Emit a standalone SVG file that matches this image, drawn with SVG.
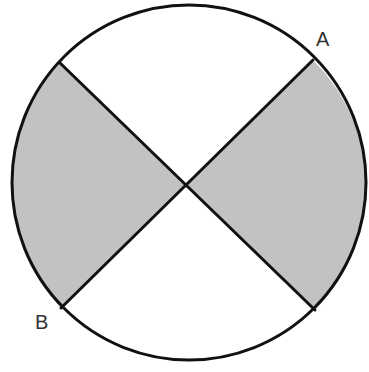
<svg xmlns="http://www.w3.org/2000/svg" width="369" height="372" viewBox="0 0 369 372">
<style>
.shade{fill:#c2c2c2;stroke:none}
.ln{stroke:#111;stroke-width:3;fill:none;stroke-linecap:round}
.lbl{font-family:"Liberation Sans",Arial,sans-serif;font-size:20px;fill:#333}
</style>
<rect width="369" height="372" fill="#fff"/>
<g id="shaded-left">
<path class="shade" d="M186,184 L60,63 A177,177 0 0 0 61,308 Z"/>
</g>
<g id="shaded-right">
<path class="shade" d="M186,184 L313,60 A177,177 0 0 1 315,310 Z"/>
</g>
<g id="circle">
<ellipse class="ln" cx="189" cy="182.5" rx="177" ry="177.5"/>
</g>
<g id="connectors">
<line class="ln" x1="313" y1="60" x2="61" y2="308"/>
<line class="ln" x1="60" y1="63" x2="315" y2="310"/>
</g>
<g id="label-A"><text class="lbl" x="316" y="46">A</text></g>
<g id="label-B"><text class="lbl" x="35" y="329">B</text></g>
</svg>
